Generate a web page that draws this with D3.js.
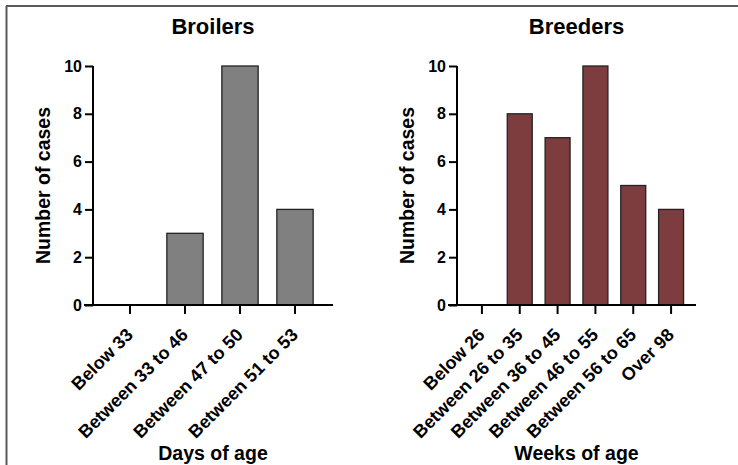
<!DOCTYPE html>
<html>
<head>
<meta charset="utf-8">
<script src="https://cdn.jsdelivr.net/npm/d3@7"></script>
<style>
  body { margin: 0; background: #fff; }
  svg { display: block; font-family: "Liberation Sans", Arial, sans-serif; }
</style>
</head>
<body>
<div id="chart"></div>
<script>
// data
const broilerCategories = ["Below 33", "Between 33 to 46", "Between 47 to 50", "Between 51 to 53"];
const broilerValues = [0, 3, 10, 4];
const breederCategories = ["Below 26", "Between 26 to 35", "Between 36 to 45", "Between 46 to 55", "Between 56 to 65", "Over 98"];
const breederValues = [0, 8, 7, 10, 5, 4];
const yTicks = [0, 2, 4, 6, 8, 10];

const width = 738, height = 465;

const svg = d3.select("#chart")
  .append("svg")
  .attr("width", width)
  .attr("height", height);

// outer frame (top and left edges only are visible)
svg.append("line")
  .attr("x1", 6).attr("x2", width).attr("y1", 6).attr("y2", 6)
  .attr("stroke", "#5a5a5a").attr("stroke-width", 2);
svg.append("line")
  .attr("x1", 6.5).attr("x2", 6.5).attr("y1", 6).attr("y2", height)
  .attr("stroke", "#5a5a5a").attr("stroke-width", 2);

const yScale = d3.scaleLinear().domain([0, 10]).range([305, 66]);

function drawPanel(opts) {
  const g = svg.append("g");
  const axisX = opts.axisX;

  const xScale = d3.scaleBand()
    .domain(opts.categories)
    .range(opts.bandRange)
    .paddingInner(0.34)
    .paddingOuter(0.17);

  // bars
  g.selectAll("rect")
    .data(opts.categories.map((c, i) => ({ name: c, value: opts.values[i] })))
    .enter()
    .append("rect")
    .attr("x", d => xScale(d.name))
    .attr("y", d => yScale(d.value))
    .attr("width", xScale.bandwidth())
    .attr("height", d => yScale(0) - yScale(d.value))
    .attr("fill", opts.color)
    .attr("stroke", "#222")
    .attr("stroke-width", 1.3)
    .style("display", d => d.value > 0 ? null : "none");

  // y axis
  const yAxis = d3.axisLeft(yScale).tickValues(yTicks).tickSize(8).tickPadding(3);
  const yg = g.append("g")
    .attr("transform", `translate(${axisX},0)`)
    .call(yAxis);
  yg.select(".domain").attr("stroke-width", 2).attr("d", `M0,${yScale(10)}V${yScale(0)}`);
  yg.selectAll(".tick line").attr("stroke-width", 2);
  yg.selectAll(".tick text")
    .attr("font-size", 16).attr("font-weight", "bold").attr("fill", "#000")
    .attr("font-family", "Liberation Sans, Arial, sans-serif");

  // x axis
  const xAxis = d3.axisBottom(xScale).tickSize(9).tickFormat("");
  const xg = g.append("g")
    .attr("transform", `translate(0,${yScale(0)})`)
    .call(xAxis);
  xg.select(".domain").attr("stroke-width", 2).attr("d", `M${axisX - 9},0H${opts.axisEnd}`);
  xg.selectAll(".tick line").attr("stroke-width", 2);

  // rotated category labels
  g.selectAll(".xlab")
    .data(opts.categories)
    .enter()
    .append("text")
    .attr("class", "xlab")
    .attr("transform", d => `translate(${xScale(d) + xScale.bandwidth() / 2 + 4},336) rotate(-45)`)
    .attr("text-anchor", "end")
    .attr("font-size", 18)
    .attr("font-weight", "bold")
    .text(d => d);

  const midX = (axisX + opts.axisEnd) / 2;

  // title
  g.append("text")
    .attr("x", midX).attr("y", 34)
    .attr("text-anchor", "middle")
    .attr("font-size", 22).attr("font-weight", "bold")
    .text(opts.title);

  // y title
  g.append("text")
    .attr("transform", `translate(${opts.yTitleX},${(yScale(0) + yScale(10)) / 2}) rotate(-90)`)
    .attr("text-anchor", "middle")
    .attr("font-size", 19.5).attr("font-weight", "bold")
    .text("Number of cases");

  // x title
  g.append("text")
    .attr("x", midX).attr("y", 460)
    .attr("text-anchor", "middle")
    .attr("font-size", 19.5).attr("font-weight", "bold")
    .text(opts.xTitle);
}

drawPanel({
  categories: broilerCategories,
  values: broilerValues,
  color: "#808080",
  axisX: 93,
  axisEnd: 333,
  bandRange: [102.5, 322.5],
  title: "Broilers",
  xTitle: "Days of age",
  yTitleX: 50
});

drawPanel({
  categories: breederCategories,
  values: breederValues,
  color: "#7d3c3e",
  axisX: 457,
  axisEnd: 696,
  bandRange: [463, 690],
  title: "Breeders",
  xTitle: "Weeks of age",
  yTitleX: 414
});
</script>
</body>
</html>
